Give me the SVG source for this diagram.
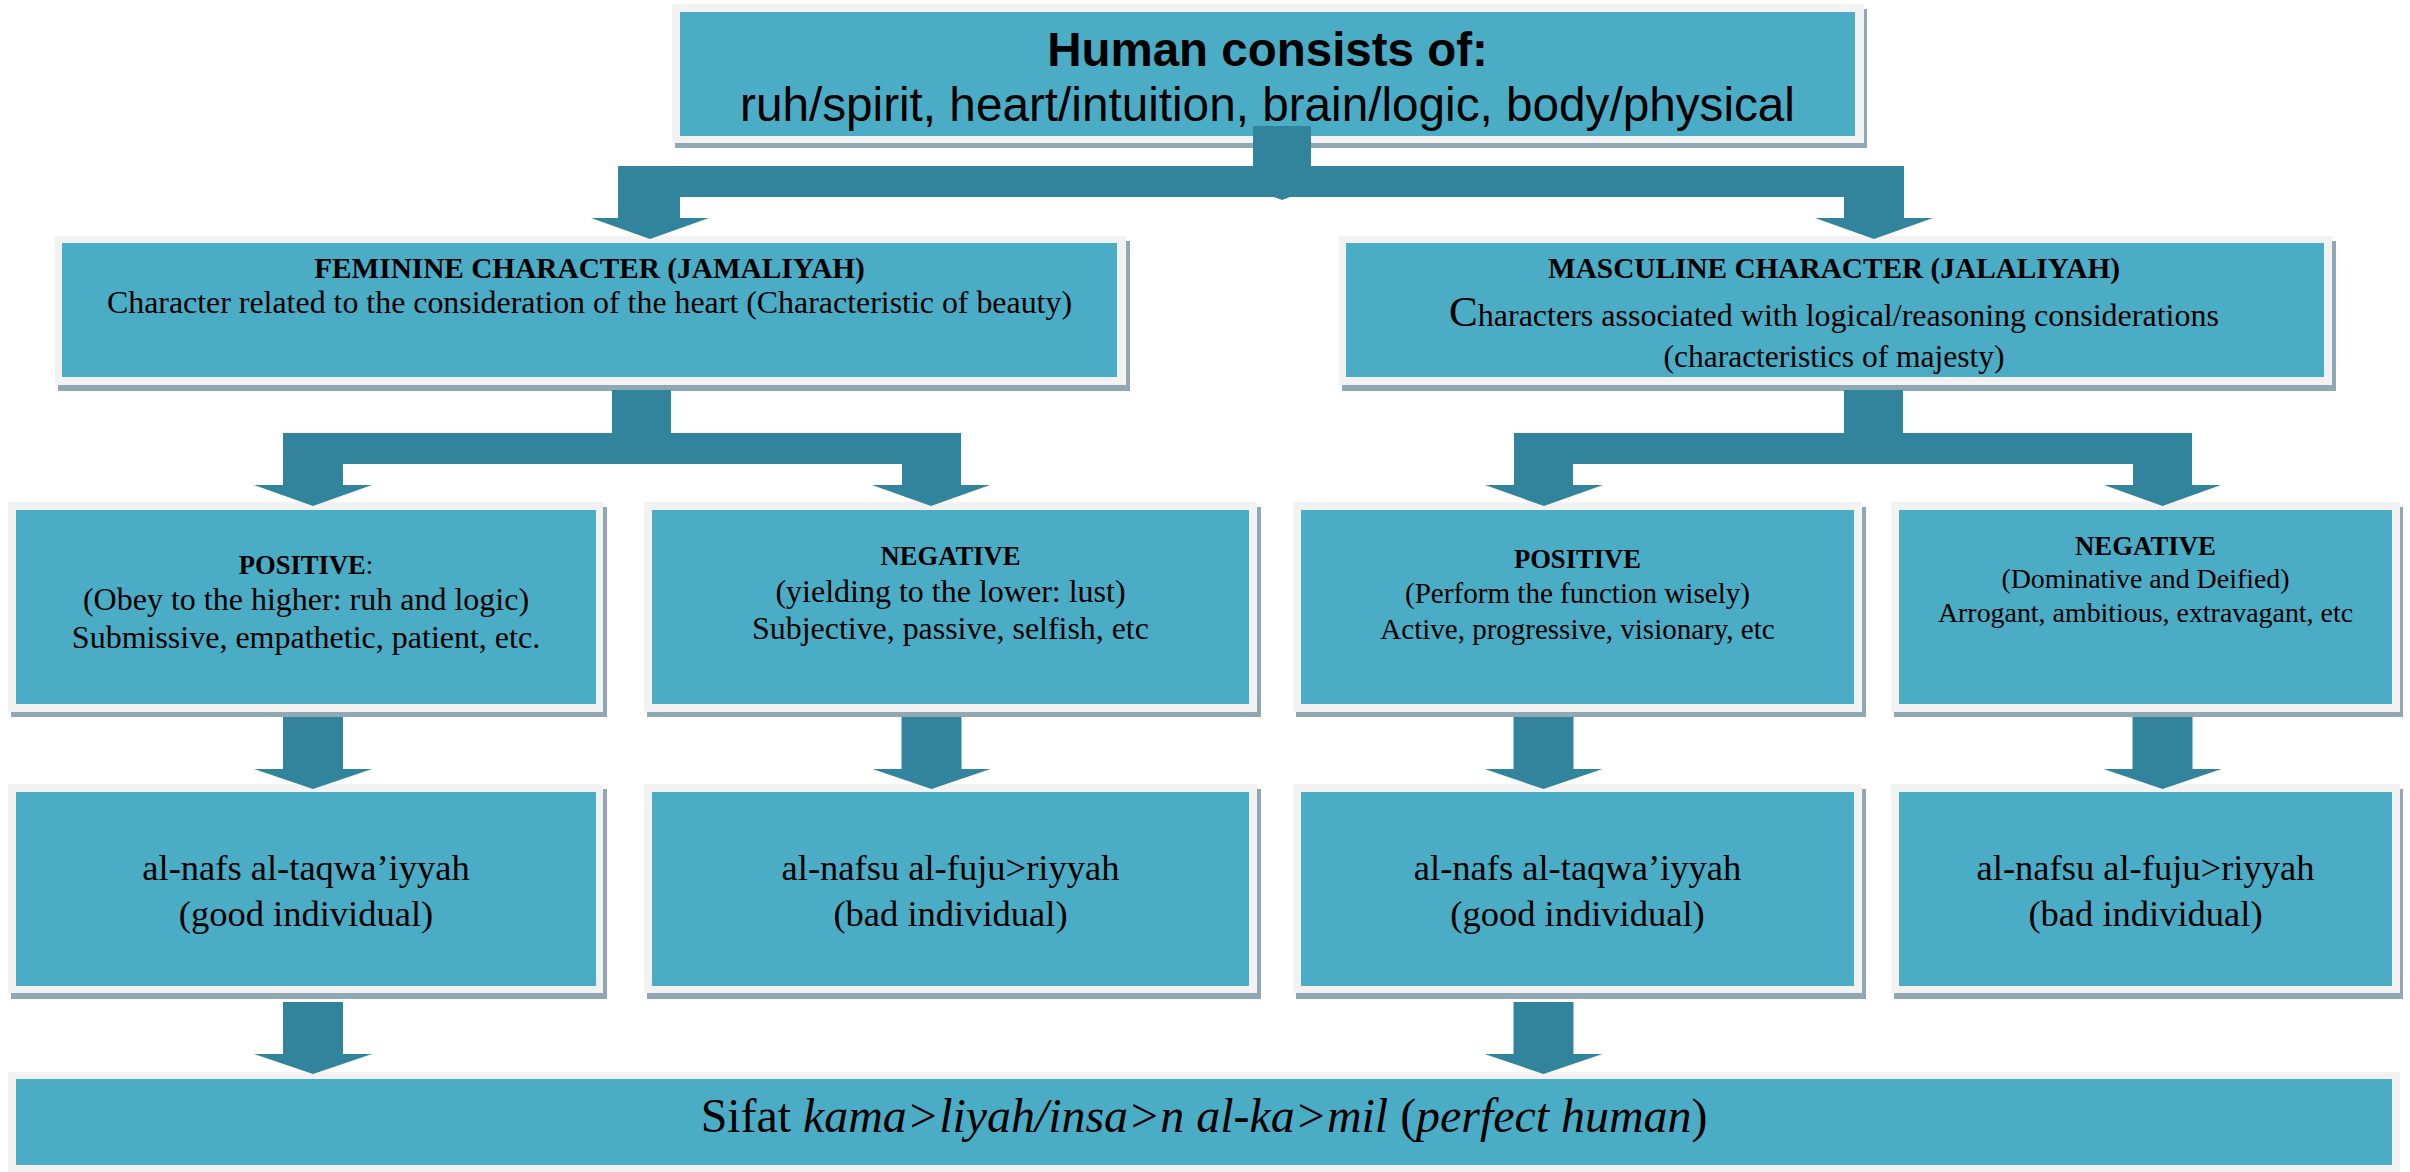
<svg xmlns="http://www.w3.org/2000/svg" xmlns:xlink="http://www.w3.org/1999/xlink" width="2410" height="1172" viewBox="0 0 2410 1172">
<style>
.sh{fill:#8fa8b3}
.bd{fill:#f2f2f2}
.bx{fill:#4bacc6}
.cn{fill:#31849b}
.sans{font-family:"Liberation Sans",Arial,sans-serif;fill:#000;text-anchor:middle}
.ser{font-family:"Liberation Serif","Times New Roman",serif;fill:#000;text-anchor:middle}
.b{font-weight:bold}
.i{font-style:italic}
</style>
<defs>
<path id="dn" d="M-30,0 H30 V52 H59 L0,72 L-59,52 H-30 Z"/>
</defs>
<rect width="2410" height="1172" fill="#ffffff"/>

<g id="node-human">
<rect class="sh" x="675" y="9" width="1192" height="139"/>
<rect class="bd" x="672" y="4" width="1192" height="139"/>
<rect class="bx" x="680" y="12" width="1175" height="124"/>
<text class="sans b" x="1267.5" y="66" font-size="47.5">Human consists of:</text>
<text class="sans" x="1267.5" y="121" font-size="47.7">ruh/spirit, heart/intuition, brain/logic, body/physical</text>
</g>

<g id="node-feminine">
<rect class="sh" x="58" y="241" width="1072" height="150"/>
<rect class="bd" x="55" y="236" width="1071" height="149"/>
<rect class="bx" x="62" y="243" width="1055" height="134"/>
<text class="ser b" x="589.5" y="278" font-size="29.3">FEMININE CHARACTER (JAMALIYAH)</text>
<text class="ser" x="589.5" y="313" font-size="31.9">Character related to the consideration of the heart (Characteristic of beauty)</text>
</g>

<g id="node-masculine">
<rect class="sh" x="1342" y="241" width="994" height="150"/>
<rect class="bd" x="1339" y="236" width="993" height="149"/>
<rect class="bx" x="1346" y="243" width="978" height="134"/>
<text class="ser b" x="1834" y="278" font-size="29.3">MASCULINE CHARACTER (JALALIYAH)</text>
<text class="ser" x="1834" y="326" font-size="32"><tspan font-size="43">C</tspan>haracters associated with logical/reasoning considerations</text>
<text class="ser" x="1834" y="367" font-size="31.5">(characteristics of majesty)</text>
</g>

<g id="node-fem-positive">
<rect class="sh" x="11" y="507" width="596" height="210"/>
<rect class="bd" x="8" y="502" width="595" height="210"/>
<rect class="bx" x="16" y="510" width="580" height="194"/>
<text class="ser" x="306" y="574" font-size="26.6"><tspan class="b">POSITIVE</tspan>:</text>
<text class="ser" x="306" y="610" font-size="32">(Obey to the higher: ruh and logic)</text>
<text class="ser" x="306" y="648" font-size="32">Submissive, empathetic, patient, etc.</text>
</g>

<g id="node-fem-negative">
<rect class="sh" x="647" y="507" width="614" height="210"/>
<rect class="bd" x="644" y="502" width="613" height="210"/>
<rect class="bx" x="652" y="510" width="597" height="194"/>
<text class="ser b" x="950.5" y="565" font-size="26.6">NEGATIVE</text>
<text class="ser" x="950.5" y="602" font-size="32">(yielding to the lower: lust)</text>
<text class="ser" x="950.5" y="639" font-size="31.9">Subjective, passive, selfish, etc</text>
</g>

<g id="node-mas-positive">
<rect class="sh" x="1296" y="507" width="570" height="210"/>
<rect class="bd" x="1293" y="502" width="569" height="210"/>
<rect class="bx" x="1301" y="510" width="553" height="194"/>
<text class="ser b" x="1577.5" y="568" font-size="26.6">POSITIVE</text>
<text class="ser" x="1577.5" y="603" font-size="29.1">(Perform the function wisely)</text>
<text class="ser" x="1577.5" y="639" font-size="29">Active, progressive, visionary, etc</text>
</g>

<g id="node-mas-negative">
<rect class="sh" x="1894" y="507" width="509" height="210"/>
<rect class="bd" x="1891" y="502" width="509" height="210"/>
<rect class="bx" x="1899" y="510" width="493" height="194"/>
<text class="ser b" x="2145.5" y="555" font-size="26.8">NEGATIVE</text>
<text class="ser" x="2145.5" y="588" font-size="27.9">(Dominative and Deified)</text>
<text class="ser" x="2145.5" y="622" font-size="27.9">Arrogant, ambitious, extravagant, etc</text>
</g>

<g id="node-good-1">
<rect class="sh" x="11" y="789" width="596" height="210"/>
<rect class="bd" x="8" y="784" width="595" height="209"/>
<rect class="bx" x="16" y="792" width="580" height="194"/>
<text class="ser" x="306" y="880" font-size="36.5">al-nafs al-taqwa’iyyah</text>
<text class="ser" x="306" y="926" font-size="36.5">(good individual)</text>
</g>

<g id="node-bad-1">
<rect class="sh" x="647" y="789" width="614" height="210"/>
<rect class="bd" x="644" y="784" width="613" height="209"/>
<rect class="bx" x="652" y="792" width="597" height="194"/>
<text class="ser" x="950.5" y="880" font-size="36.5">al-nafsu al-fuju&gt;riyyah</text>
<text class="ser" x="950.5" y="926" font-size="36.5">(bad individual)</text>
</g>

<g id="node-good-2">
<rect class="sh" x="1296" y="789" width="570" height="210"/>
<rect class="bd" x="1293" y="784" width="569" height="209"/>
<rect class="bx" x="1301" y="792" width="553" height="194"/>
<text class="ser" x="1577.5" y="880" font-size="36.5">al-nafs al-taqwa’iyyah</text>
<text class="ser" x="1577.5" y="926" font-size="36.5">(good individual)</text>
</g>

<g id="node-bad-2">
<rect class="sh" x="1894" y="789" width="509" height="210"/>
<rect class="bd" x="1891" y="784" width="509" height="209"/>
<rect class="bx" x="1899" y="792" width="493" height="194"/>
<text class="ser" x="2145.5" y="880" font-size="36.5">al-nafsu al-fuju&gt;riyyah</text>
<text class="ser" x="2145.5" y="926" font-size="36.5">(bad individual)</text>
</g>

<g id="node-perfect">
<rect class="bd" x="8" y="1072" width="2392" height="110"/>
<rect class="bx" x="16" y="1079" width="2376" height="86"/>
<text class="ser" x="1204" y="1132" font-size="47.9">Sifat <tspan class="i">kama&gt;liyah/insa&gt;n al-ka&gt;mil</tspan> (<tspan class="i">perfect human</tspan>)</text>
</g>

<g id="connectors">
<path class="cn" d="M1253,126 H1311 V166 H1904 V218 H1933 L1874,239 L1815,218 H1844 V197 H680 V218 H709 L650,239 L591,218 H618 V166 H1253 Z"/>
<polygon class="cn" points="1274,197 1290,197 1282,200"/>
<path class="cn" d="M612,390 H671 V433 H961 V485 H990 L931,506 L872,485 H902 V464 H343 V485 H372 L313,506 L254,485 H283 V433 H612 Z"/>
<path class="cn" d="M1844,390 H1903 V433 H2192 V485 H2221 L2162.5,506 L2104,485 H2133 V464 H1573 V485 H1603 L1544,506 L1485,485 H1514 V433 H1844 Z"/>
<use xlink:href="#dn" href="#dn" class="cn" x="313" y="717"/>
<use xlink:href="#dn" href="#dn" class="cn" x="931.5" y="717"/>
<use xlink:href="#dn" href="#dn" class="cn" x="1543.5" y="717"/>
<use xlink:href="#dn" href="#dn" class="cn" x="2162.5" y="717"/>
<use xlink:href="#dn" href="#dn" class="cn" x="313" y="1002"/>
<use xlink:href="#dn" href="#dn" class="cn" x="1543.5" y="1002"/>
</g>
</svg>
